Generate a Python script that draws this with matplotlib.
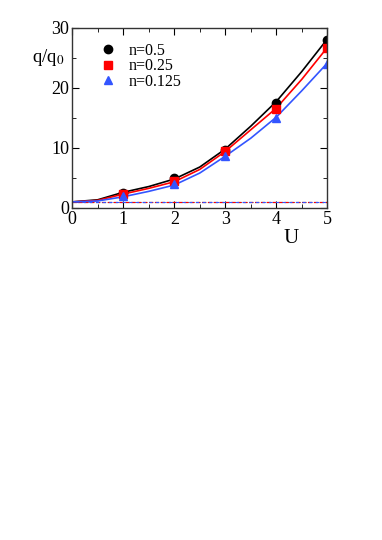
import matplotlib
matplotlib.use("Agg")
from matplotlib import pyplot as plt
from matplotlib.ticker import MultipleLocator

plt.rcParams['font.family'] = ['Liberation Serif', 'DejaVu Serif']
plt.rcParams['mathtext.fontset'] = 'stix'

# symbols (calculated points)
U_pts = [1, 2, 3, 4, 5]
q_05 = [2.5, 4.9, 9.7, 17.5, 28.0]
q_025 = [2.3, 4.5, 9.4, 16.5, 26.6]
q_0125 = [1.9, 3.9, 8.6, 14.9, 24.0]

# fitted curves
U_line = [0, 0.5, 1, 1.5, 2, 2.5, 3, 3.5, 4, 4.5, 5]
line_05 = [1.0, 1.35, 2.6, 3.55, 4.8, 6.8, 9.8, 13.6, 17.7, 22.7, 28.1]
line_025 = [1.0, 1.25, 2.3, 3.25, 4.35, 6.4, 9.4, 13.0, 16.6, 21.4, 26.7]
line_0125 = [1.0, 1.15, 1.85, 2.75, 3.8, 5.8, 8.6, 11.6, 15.1, 19.5, 24.1]

# U=0 reference level
U_ref = [0, 5]
q_ref = [1.0, 1.0]

blue = '#3355ff'
fig = plt.figure(figsize=(3.82, 5.40), dpi=100)
ax = fig.add_axes([0.189, 0.615, 0.668, 0.334])

ax.plot(U_ref, q_ref, c='k', ls='--', lw=0.8)
ax.plot(U_ref, q_ref, c='red', ls='--', lw=0.8)
ax.plot(U_ref, q_ref, c=blue, ls=(3, (3, 3)), lw=0.8)

ax.plot(U_line, line_05, c='k', lw=1.2)
ax.plot(U_line, line_025, c='red', lw=1.2)
ax.plot(U_line, line_0125, c=blue, lw=1.2)

ax.plot(U_pts, q_05, 'o', c='k', ms=6, label='n=0.5')
ax.plot(U_pts, q_025, 's', c='red', ms=6, label='n=0.25')
ax.plot(U_pts, q_0125, '^', c=blue, ms=6, label='n=0.125')

ax.set_xlim(0, 5)
ax.set_ylim(0, 30)
ax.xaxis.set_major_locator(MultipleLocator(1))
ax.xaxis.set_minor_locator(MultipleLocator(0.5))
ax.yaxis.set_major_locator(MultipleLocator(10))
ax.yaxis.set_minor_locator(MultipleLocator(5))
ax.tick_params(which='both', direction='in', top=True, right=True, labelsize=13, pad=2)
ax.tick_params(which='major', length=5)
ax.tick_params(which='minor', length=3)
for s in ax.spines.values():
    s.set_linewidth(1.0)
    s.set_color('#333333')

ax.legend(loc='upper left', bbox_to_anchor=(0.085, 0.95), frameon=False, fontsize=11.5,
          handlelength=1.0, handletextpad=0.75, labelspacing=-0.04, borderaxespad=0)

fig.text(0.085, 0.893, 'q/q$_0$', fontsize=13.5, ha='left', va='center')
fig.text(0.762, 0.558, 'U', fontsize=15, ha='center', va='center')

plt.savefig('out.png', dpi=100)
